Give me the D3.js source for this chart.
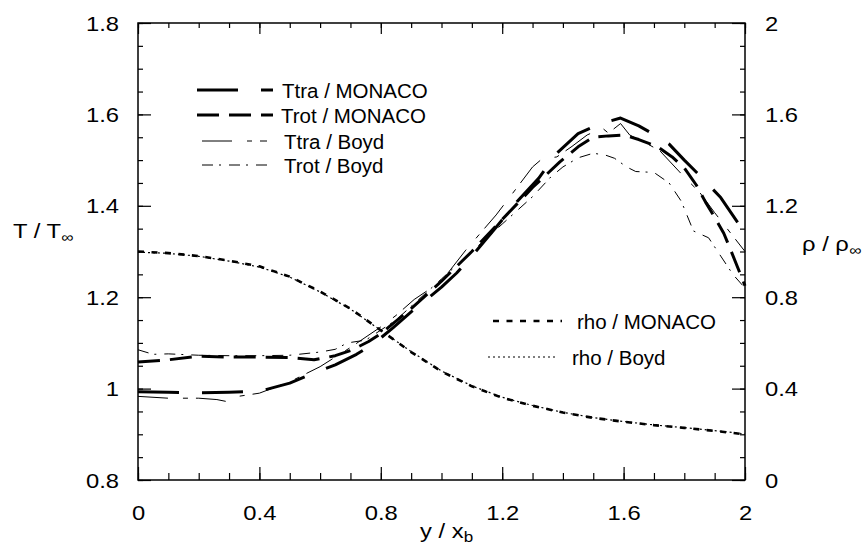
<!DOCTYPE html>
<html>
<head>
<meta charset="utf-8">
<script src="https://cdn.jsdelivr.net/npm/d3@7"></script>
<style>
  html, body { margin: 0; padding: 0; background: #fff; }
  svg { display: block; font-family: "Liberation Sans", Arial, Helvetica, sans-serif; }
</style>
</head>
<body>
<svg id="chart" width="866" height="548"></svg>
<script>
// ---- data: [y/xb, value] ----
const ttraMonaco = [[0,0.993],[0.1,0.992],[0.2,0.991],[0.3,0.992],[0.4,0.994],[0.5,1.012],[0.58,1.034],[0.65,1.052],[0.72,1.075],[0.78,1.10],[0.84,1.133],[0.9,1.168],[0.96,1.20],[1.0,1.222],[1.05,1.253],[1.1,1.29],[1.18,1.353],[1.25,1.41],[1.32,1.46],[1.38,1.515],[1.45,1.558],[1.52,1.579],[1.59,1.592],[1.65,1.575],[1.7,1.556],[1.75,1.535],[1.8,1.50],[1.86,1.46],[1.92,1.418],[2.0,1.34]];
const trotMonaco = [[0,1.058],[0.1,1.063],[0.2,1.071],[0.3,1.069],[0.4,1.069],[0.5,1.068],[0.58,1.063],[0.65,1.072],[0.7,1.083],[0.76,1.103],[0.8,1.12],[0.9,1.175],[1.0,1.235],[1.1,1.30],[1.2,1.37],[1.3,1.44],[1.39,1.496],[1.45,1.529],[1.5,1.55],[1.55,1.553],[1.6,1.555],[1.65,1.545],[1.71,1.53],[1.76,1.507],[1.8,1.483],[1.84,1.445],[1.87,1.408],[1.9,1.375],[1.93,1.34],[1.95,1.308],[2.0,1.225]];
const ttraBoyd = [[0,0.983],[0.1,0.979],[0.2,0.979],[0.26,0.976],[0.29,0.972],[0.33,0.983],[0.4,0.99],[0.5,1.015],[0.6,1.048],[0.7,1.09],[0.8,1.135],[0.85,1.16],[0.91,1.195],[1.0,1.235],[1.08,1.303],[1.18,1.38],[1.25,1.441],[1.3,1.485],[1.33,1.502],[1.38,1.507],[1.43,1.53],[1.48,1.555],[1.53,1.57],[1.55,1.559],[1.59,1.58],[1.62,1.555],[1.68,1.535],[1.72,1.52],[1.8,1.463],[1.85,1.43],[1.9,1.385],[2.0,1.30]];
const trotBoyd = [[0,1.085],[0.05,1.075],[0.1,1.076],[0.2,1.073],[0.3,1.072],[0.4,1.072],[0.5,1.073],[0.6,1.08],[0.65,1.086],[0.69,1.10],[0.75,1.106],[0.8,1.128],[0.85,1.15],[0.9,1.18],[1.0,1.24],[1.1,1.30],[1.2,1.36],[1.3,1.42],[1.36,1.463],[1.4,1.485],[1.45,1.505],[1.5,1.515],[1.54,1.511],[1.57,1.504],[1.61,1.485],[1.64,1.475],[1.7,1.473],[1.75,1.45],[1.79,1.41],[1.83,1.345],[1.88,1.33],[1.92,1.29],[1.96,1.25],[2.0,1.22]];
const rhoMonaco = [[0,1.0],[0.1,0.993],[0.2,0.98],[0.3,0.96],[0.4,0.935],[0.5,0.89],[0.6,0.825],[0.7,0.75],[0.8,0.655],[0.9,0.56],[1.0,0.475],[1.1,0.41],[1.2,0.36],[1.3,0.325],[1.4,0.295],[1.5,0.272],[1.6,0.255],[1.7,0.24],[1.8,0.228],[1.9,0.215],[2.0,0.2]];
const rhoBoyd = [[0,0.997],[0.1,0.992],[0.2,0.979],[0.3,0.958],[0.4,0.932],[0.5,0.888],[0.6,0.823],[0.7,0.748],[0.8,0.655],[0.9,0.562],[1.0,0.477],[1.1,0.412],[1.2,0.362],[1.3,0.326],[1.4,0.296],[1.5,0.273],[1.6,0.256],[1.7,0.241],[1.8,0.229],[1.9,0.216],[2.0,0.202]];

const xMajor = [0, 0.4, 0.8, 1.2, 1.6, 2];
const xMinor = d3.range(0, 2.001, 0.1);
const tMajor = [0.8, 1.0, 1.2, 1.4, 1.6, 1.8];
const tLabels = ["0.8", "1", "1.2", "1.4", "1.6", "1.8"];
const tMinor = d3.range(0.8, 1.801, 0.05);
const rMajor = [0, 0.4, 0.8, 1.2, 1.6, 2];
const rLabels = ["0", "0.4", "0.8", "1.2", "1.6", "2"];
const xLabels = ["0", "0.4", "0.8", "1.2", "1.6", "2"];

// ---- line styles for each series ----
const series = [
  { name: "Ttra / MONACO", data: ttraMonaco, axis: "T", width: 3,   dash: "41,23" },
  { name: "Trot / MONACO", data: trotMonaco, axis: "T", width: 3,   dash: "22,10" },
  { name: "Ttra / Boyd",   data: ttraBoyd,   axis: "T", width: 1,   dash: "30,15,5,8" },
  { name: "Trot / Boyd",   data: trotBoyd,   axis: "T", width: 1,   dash: "11,6,2,8" },
  { name: "rho / MONACO",  data: rhoMonaco,  axis: "R", width: 2.6, dash: "6,7.5" },
  { name: "rho / Boyd",    data: rhoBoyd,    axis: "R", width: 1.2, dash: "2,3" }
];

// ---- layout ----
const L = 138, R = 745, T = 23, B = 480;
const svg = d3.select("#chart");
const x = d3.scaleLinear().domain([0, 2]).range([L, R]);
const yT = d3.scaleLinear().domain([0.8, 1.8]).range([B, T]);
const yR = d3.scaleLinear().domain([0, 2]).range([B, T]);
const SX = 1.22; // horizontal stretch of axis lettering

function axisGroup(axis, tx, ty) {
  const g = svg.append("g").attr("transform", `translate(${tx},${ty})`).call(axis);
  g.select(".domain").remove();
  g.selectAll("line").attr("stroke", "#000").attr("stroke-width", 1.2);
  return g;
}

// minor ticks (all four sides, pointing inward)
axisGroup(d3.axisBottom(x).tickValues(xMinor).tickSize(-7).tickFormat(""), 0, B);
axisGroup(d3.axisTop(x).tickValues(xMinor).tickSize(-5).tickFormat(""), 0, T);
axisGroup(d3.axisLeft(yT).tickValues(tMinor).tickSize(-5).tickFormat(""), L, 0);
axisGroup(d3.axisRight(yR).tickValues(d3.range(0, 2.001, 0.1)).tickSize(-5).tickFormat(""), R, 0);

// major ticks with labels
const gx = axisGroup(d3.axisBottom(x).tickValues(xMajor).tickSize(-13).tickPadding(0)
  .tickFormat((d, i) => xLabels[i]), 0, B);
gx.selectAll("text").attr("y", 0).attr("dy", null)
  .attr("transform", `translate(0,40) scale(${SX},1)`)
  .attr("font-size", 19.5).attr("font-family", "Liberation Sans, Arial, sans-serif").attr("fill", "#000");

axisGroup(d3.axisTop(x).tickValues(xMajor).tickSize(-11).tickFormat(""), 0, T);

const gl = axisGroup(d3.axisLeft(yT).tickValues(tMajor).tickSize(-13).tickPadding(0)
  .tickFormat((d, i) => tLabels[i]), L, 0);
gl.selectAll("text").attr("x", 0).attr("dy", null)
  .attr("transform", `translate(-19,7) scale(${SX},1)`)
  .attr("font-size", 19.5).attr("font-family", "Liberation Sans, Arial, sans-serif").attr("fill", "#000");

const gr = axisGroup(d3.axisRight(yR).tickValues(rMajor).tickSize(-13).tickPadding(0)
  .tickFormat((d, i) => rLabels[i]), R, 0);
gr.selectAll("text").attr("x", 0).attr("dy", null)
  .attr("transform", `translate(20,7) scale(${SX},1)`)
  .attr("font-size", 19.5).attr("font-family", "Liberation Sans, Arial, sans-serif").attr("fill", "#000");

// frame
svg.append("rect").attr("x", L).attr("y", T).attr("width", R - L).attr("height", B - T)
  .attr("fill", "none").attr("stroke", "#000").attr("stroke-width", 1.5);

// curves
const lineT = d3.line().x(d => x(d[0])).y(d => yT(d[1]));
const lineR = d3.line().x(d => x(d[0])).y(d => yR(d[1]));
const plot = svg.append("g");
series.forEach(s => {
  plot.append("path").datum(s.data)
    .attr("d", s.axis === "T" ? lineT : lineR)
    .attr("fill", "none").attr("stroke", "#000")
    .attr("stroke-width", s.width)
    .attr("stroke-dasharray", s.dash)
    .attr("stroke-linejoin", "round");
});

// axis titles
function title(tx, ty, main, sub) {
  const t = svg.append("text").attr("transform", `translate(${tx},${ty}) scale(${SX},1)`)
    .attr("font-size", 19.5).attr("fill", "#000");
  t.append("tspan").text(main);
  t.append("tspan").attr("font-size", 14).attr("dy", 4).text(sub);
}
title(13, 238, "T / T", "\u221E");
title(802, 251, "\u03C1 / \u03C1", "\u221E");
title(420, 538, "y / x", "b");

// legends
const legendRows = [
  { s: series[0], x1: 197, x2: 273, y: 90,  tx: 282 },
  { s: series[1], x1: 197, x2: 273, y: 115, tx: 281 },
  { s: series[2], x1: 202, x2: 267, y: 141, tx: 284 },
  { s: series[3], x1: 202, x2: 268, y: 165, tx: 284 },
  { s: series[4], x1: 493, x2: 562, y: 321, tx: 577 },
  { s: series[5], x1: 488, x2: 555, y: 357, tx: 572 }
];
const lg = svg.append("g");
legendRows.forEach(r => {
  lg.append("line").attr("x1", r.x1).attr("x2", r.x2).attr("y1", r.y).attr("y2", r.y)
    .attr("stroke", "#000").attr("stroke-width", r.s.width).attr("stroke-dasharray", r.s.dash);
  lg.append("text").attr("x", r.tx).attr("y", r.y + 7.5)
    .attr("font-size", 20.5).attr("fill", "#000").text(r.s.name);
});
</script>
</body>
</html>
